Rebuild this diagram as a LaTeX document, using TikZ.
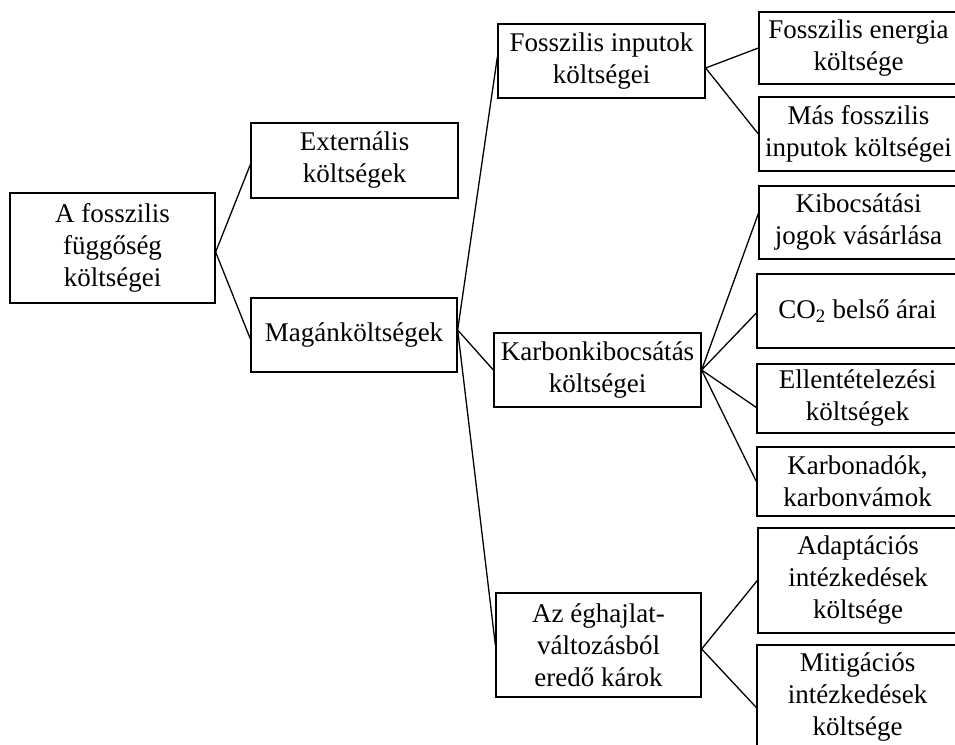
\documentclass[tikz,border=0pt]{standalone}
\usepackage{fontspec}
\setmainfont{Liberation Serif}
\tikzset{
  box/.style={draw, line width=1.3pt, inner sep=0pt, align=center,
    font=\fontsize{27}{32}\selectfont},
  conn/.style={line width=1.3pt}
}
\newcommand\bx[6]{\node[box, minimum width={(#4-#2)*1pt}, minimum height={(#5-#3)*1pt}]
  (#1) at ({(#2+#4)/2},{(#3+#5)/2}) {#6};}
\begin{document}
\begin{tikzpicture}[x=1pt,y=-1pt]
\useasboundingbox (0,0) rectangle (955,744);
\fill[white] (0,0) rectangle (955,744);
\bx{root}{10}{193}{215}{303}{A fosszilis\\függőség\\költségei}
\bx{ext}{251}{123}{458}{198}{Externális\\költségek}
\bx{mag}{251}{298}{457}{372}{Magánköltségek}
\bx{fi}{498}{24}{705}{98}{Fosszilis inputok\\költségei}
\bx{kk}{494}{333}{701}{407}{Karbonkibocsátás\\költségei}
\bx{eg}{496}{593}{701}{697}{Az éghajlat-\\változásból\\eredő károk}
\bx{fe}{759}{12}{958}{84}{Fosszilis energia\\költsége}
\bx{mf}{759}{97}{958}{171}{Más fosszilis\\inputok költségei}
\bx{kib}{759}{186}{958}{259}{Kibocsátási\\jogok vásárlása}
\bx{co}{757}{274}{958}{348}{CO\textsubscript{2} belső árai}
\bx{ell}{757}{364}{958}{433}{Ellentételezési\\költségek}
\bx{kad}{757}{447}{958}{516}{Karbonadók,\\karbonvámok}
\bx{ada}{758}{528}{958}{633}{Adaptációs\\intézkedések\\költsége}
\bx{mit}{757}{645}{958}{750}{Mitigációs\\intézkedések\\költsége}

\draw[conn] ([yshift=-4pt]root.east) -- ([yshift=-4pt]ext.west);
\draw[conn] ([yshift=-4pt]root.east) -- ([yshift=-4pt]mag.west);
\draw[conn] ([yshift=5pt]mag.east) -- ([yshift=4pt]fi.west);
\draw[conn] ([yshift=5pt]mag.east) -- (kk.west);
\draw[conn] ([yshift=5pt]mag.east) -- (eg.west);
\draw[conn] ([yshift=-7pt]fi.east) -- (fe.west);
\draw[conn] ([yshift=-7pt]fi.east) -- (mf.west);
\draw[conn] (kk.east) -- ([yshift=9pt]kib.west);
\draw[conn] (kk.east) -- ([yshift=-2pt]co.west);
\draw[conn] (kk.east) -- ([yshift=-9pt]ell.west);
\draw[conn] (kk.east) -- (kad.west);
\draw[conn] ([yshift=-4pt]eg.east) -- (ada.west);
\draw[conn] ([yshift=-4pt]eg.east) -- ([yshift=-10pt]mit.west);
\end{tikzpicture}
\end{document}
